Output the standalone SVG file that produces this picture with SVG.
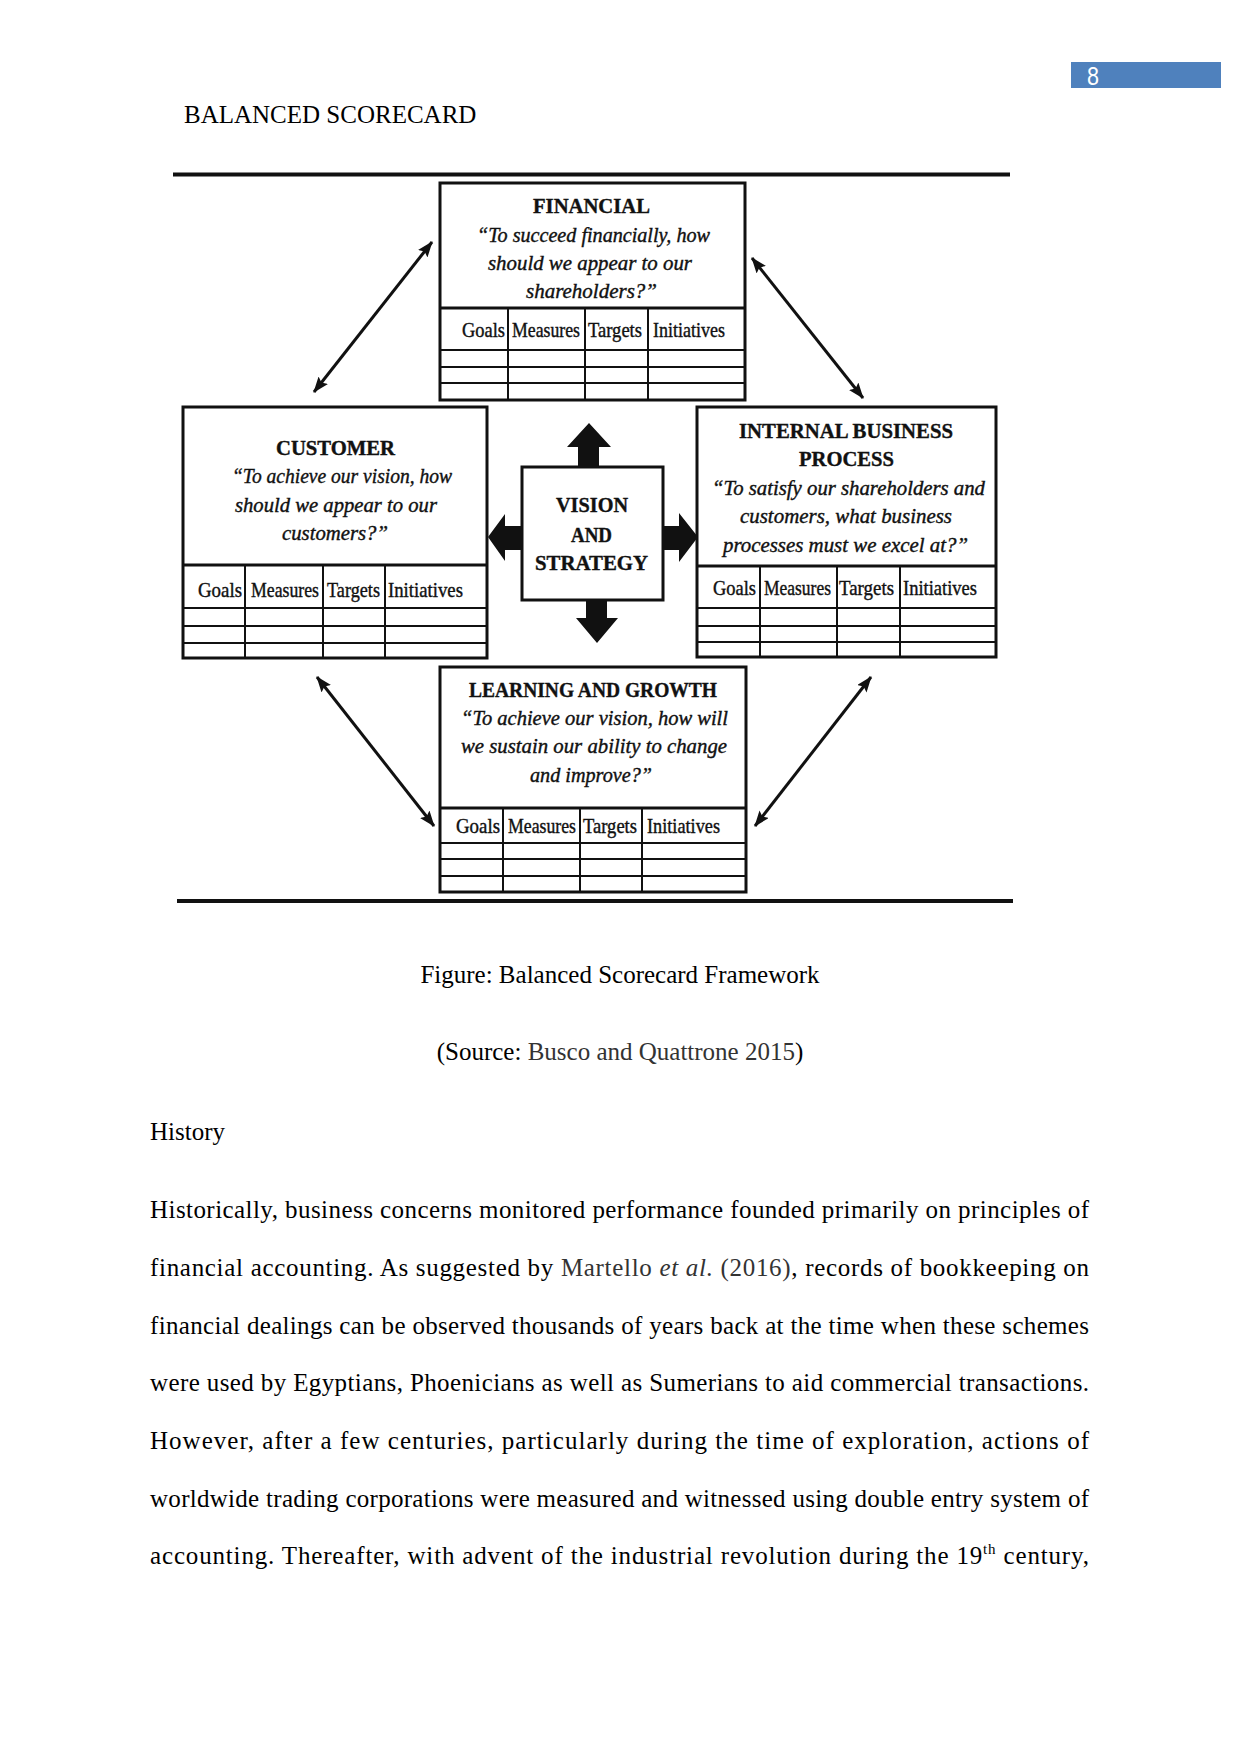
<svg xmlns="http://www.w3.org/2000/svg" width="1241" height="1754" viewBox="0 0 1241 1754">
<defs>
<style>
.box{fill:#fff;stroke:#111;stroke-width:3}
.ln{stroke:#111;stroke-width:2;fill:none}
.h{font-family:"Liberation Serif","Times New Roman",serif;font-weight:bold;font-size:22px;fill:#111;stroke:#111;stroke-width:0.4}
.q{font-family:"Liberation Serif","Times New Roman",serif;font-style:italic;font-size:21px;fill:#111;stroke:#111;stroke-width:0.4}
.c{font-family:"Liberation Serif","Times New Roman",serif;font-size:21px;fill:#111;stroke:#111;stroke-width:0.4}
.body{font-family:"Liberation Serif","Times New Roman",serif;font-size:25px;fill:#000}
.cite{fill:#333}
.rule{stroke:#111;stroke-width:4}
.diag{stroke:#111;stroke-width:3;fill:none;marker-start:url(#ah);marker-end:url(#ah)}
.blk{fill:#111}
</style>
<marker id="ah" markerUnits="userSpaceOnUse" markerWidth="16" markerHeight="12" refX="15" refY="6" orient="auto-start-reverse" viewBox="0 0 16 12">
<path d="M0,0 L16,6 L0,12 L3,6 z" fill="#111"/>
</marker>
</defs>
<rect width="1241" height="1754" fill="#fff"/>

<g id="header">
<rect x="1071" y="62" width="150" height="26" fill="#4F81BD"/>
<text x="1087" y="85" font-family="Liberation Sans, Arial, sans-serif" font-size="26" fill="#fff" textLength="12" lengthAdjust="spacingAndGlyphs">8</text>
<text class="body" x="184" y="123">BALANCED SCORECARD</text>
</g>

<g id="rules">
<line class="rule" x1="173" y1="174.5" x2="1010" y2="174.5"/>
<line class="rule" x1="177" y1="901" x2="1013" y2="901"/>
</g>

<g id="financial">
<rect class="box" x="440" y="183" width="305" height="217"/>
<line class="ln" x1="440" y1="308" x2="745" y2="308" style="stroke-width:3"/>
<line class="ln" x1="508" y1="308" x2="508" y2="400"/>
<line class="ln" x1="585" y1="308" x2="585" y2="400"/>
<line class="ln" x1="648" y1="308" x2="648" y2="400"/>
<line class="ln" x1="440" y1="350" x2="745" y2="350"/>
<line class="ln" x1="440" y1="367" x2="745" y2="367"/>
<line class="ln" x1="440" y1="383" x2="745" y2="383"/>
<text class="h" x="533" y="213" textLength="117" lengthAdjust="spacingAndGlyphs">FINANCIAL</text>
<text class="q" x="477" y="242" textLength="233" lengthAdjust="spacingAndGlyphs">“To succeed financially, how</text>
<text class="q" x="488" y="270" textLength="204" lengthAdjust="spacingAndGlyphs">should we appear to our</text>
<text class="q" x="526" y="298" textLength="131" lengthAdjust="spacingAndGlyphs">shareholders?”</text>
<text class="c" x="462" y="337" textLength="43" lengthAdjust="spacingAndGlyphs">Goals</text>
<text class="c" x="512" y="337" textLength="68" lengthAdjust="spacingAndGlyphs">Measures</text>
<text class="c" x="588" y="337" textLength="54" lengthAdjust="spacingAndGlyphs">Targets</text>
<text class="c" x="653" y="337" textLength="72" lengthAdjust="spacingAndGlyphs">Initiatives</text>
</g>

<g id="customer">
<rect class="box" x="183" y="407" width="304" height="251"/>
<line class="ln" x1="183" y1="565" x2="487" y2="565" style="stroke-width:3"/>
<line class="ln" x1="245" y1="565" x2="245" y2="658"/>
<line class="ln" x1="323" y1="565" x2="323" y2="658"/>
<line class="ln" x1="385" y1="565" x2="385" y2="658"/>
<line class="ln" x1="183" y1="608" x2="487" y2="608"/>
<line class="ln" x1="183" y1="626" x2="487" y2="626"/>
<line class="ln" x1="183" y1="643" x2="487" y2="643"/>
<text class="h" x="276" y="455" textLength="119" lengthAdjust="spacingAndGlyphs">CUSTOMER</text>
<text class="q" x="232" y="483" textLength="220" lengthAdjust="spacingAndGlyphs">“To achieve our vision, how</text>
<text class="q" x="235" y="512" textLength="202" lengthAdjust="spacingAndGlyphs">should we appear to our</text>
<text class="q" x="282" y="540" textLength="106" lengthAdjust="spacingAndGlyphs">customers?”</text>
<text class="c" x="198" y="597" textLength="44" lengthAdjust="spacingAndGlyphs">Goals</text>
<text class="c" x="251" y="597" textLength="68" lengthAdjust="spacingAndGlyphs">Measures</text>
<text class="c" x="327" y="597" textLength="53" lengthAdjust="spacingAndGlyphs">Targets</text>
<text class="c" x="388" y="597" textLength="75" lengthAdjust="spacingAndGlyphs">Initiatives</text>
</g>

<g id="internal">
<rect class="box" x="697" y="407" width="299" height="250"/>
<line class="ln" x1="697" y1="566" x2="996" y2="566" style="stroke-width:3"/>
<line class="ln" x1="760" y1="566" x2="760" y2="657"/>
<line class="ln" x1="837" y1="566" x2="837" y2="657"/>
<line class="ln" x1="900" y1="566" x2="900" y2="657"/>
<line class="ln" x1="697" y1="608" x2="996" y2="608"/>
<line class="ln" x1="697" y1="626" x2="996" y2="626"/>
<line class="ln" x1="697" y1="642" x2="996" y2="642"/>
<text class="h" x="739" y="438" textLength="214" lengthAdjust="spacingAndGlyphs">INTERNAL BUSINESS</text>
<text class="h" x="799" y="466" textLength="95" lengthAdjust="spacingAndGlyphs">PROCESS</text>
<text class="q" x="712" y="495" textLength="273" lengthAdjust="spacingAndGlyphs">“To satisfy our shareholders and</text>
<text class="q" x="740" y="523" textLength="212" lengthAdjust="spacingAndGlyphs">customers, what business</text>
<text class="q" x="723" y="552" textLength="245" lengthAdjust="spacingAndGlyphs">processes must we excel at?”</text>
<text class="c" x="713" y="595" textLength="43" lengthAdjust="spacingAndGlyphs">Goals</text>
<text class="c" x="764" y="595" textLength="67" lengthAdjust="spacingAndGlyphs">Measures</text>
<text class="c" x="839" y="595" textLength="55" lengthAdjust="spacingAndGlyphs">Targets</text>
<text class="c" x="903" y="595" textLength="74" lengthAdjust="spacingAndGlyphs">Initiatives</text>
</g>

<g id="learning">
<rect class="box" x="440" y="667" width="306" height="225"/>
<line class="ln" x1="440" y1="808" x2="746" y2="808" style="stroke-width:3"/>
<line class="ln" x1="503" y1="808" x2="503" y2="892"/>
<line class="ln" x1="580" y1="808" x2="580" y2="892"/>
<line class="ln" x1="642" y1="808" x2="642" y2="892"/>
<line class="ln" x1="440" y1="843" x2="746" y2="843"/>
<line class="ln" x1="440" y1="859" x2="746" y2="859"/>
<line class="ln" x1="440" y1="876" x2="746" y2="876"/>
<text class="h" x="469" y="697" textLength="248" lengthAdjust="spacingAndGlyphs">LEARNING AND GROWTH</text>
<text class="q" x="461" y="725" textLength="267" lengthAdjust="spacingAndGlyphs">“To achieve our vision, how will</text>
<text class="q" x="461" y="753" textLength="266" lengthAdjust="spacingAndGlyphs">we sustain our ability to change</text>
<text class="q" x="530" y="782" textLength="122" lengthAdjust="spacingAndGlyphs">and improve?”</text>
<text class="c" x="456" y="833" textLength="44" lengthAdjust="spacingAndGlyphs">Goals</text>
<text class="c" x="508" y="833" textLength="68" lengthAdjust="spacingAndGlyphs">Measures</text>
<text class="c" x="583" y="833" textLength="54" lengthAdjust="spacingAndGlyphs">Targets</text>
<text class="c" x="647" y="833" textLength="73" lengthAdjust="spacingAndGlyphs">Initiatives</text>
</g>

<g id="vision">
<rect class="box" x="522" y="467" width="141" height="133"/>
<text class="h" x="556" y="512" font-size="23" textLength="72" lengthAdjust="spacingAndGlyphs">VISION</text>
<text class="h" x="571" y="542" font-size="23" textLength="41" lengthAdjust="spacingAndGlyphs">AND</text>
<text class="h" x="535" y="570" font-size="23" textLength="113" lengthAdjust="spacingAndGlyphs">STRATEGY</text>
</g>

<g id="connectors">
<polygon class="blk" points="578,467 578,447 567,447 589,423 611,447 599,447 599,467"/>
<polygon class="blk" points="586,600 586,618 576,618 597,643 618,618 607,618 607,600"/>
<polygon class="blk" points="522,526 505,526 505,514 488,537 505,561 505,550 522,550"/>
<polygon class="blk" points="663,526 679,526 679,513 698,537 679,562 679,550 663,550"/>
<line class="diag" x1="432" y1="242" x2="314" y2="392"/>
<line class="diag" x1="752" y1="258" x2="863" y2="398"/>
<line class="diag" x1="317" y1="677" x2="434" y2="826"/>
<line class="diag" x1="871" y1="677" x2="755" y2="826"/>
</g>

<g id="text">
<text class="body" x="620" y="983" text-anchor="middle">Figure: Balanced Scorecard Framework</text>
<text class="body" x="620" y="1060" text-anchor="middle">(Source: <tspan class="cite">Busco and Quattrone 2015</tspan>)</text>
<text class="body" x="150" y="1140">History</text>
<text class="body" x="150" y="1218" textLength="939" lengthAdjust="spacing">Historically, business concerns monitored performance founded primarily on principles of</text>
<text class="body" x="150" y="1276" textLength="939" lengthAdjust="spacing">financial accounting. As suggested by <tspan class="cite">Martello </tspan><tspan class="cite" font-style="italic">et al.</tspan><tspan class="cite"> (2016)</tspan>, records of bookkeeping on</text>
<text class="body" x="150" y="1334" textLength="939" lengthAdjust="spacing">financial dealings can be observed thousands of years back at the time when these schemes</text>
<text class="body" x="150" y="1391" textLength="939" lengthAdjust="spacing">were used by Egyptians, Phoenicians as well as Sumerians to aid commercial transactions.</text>
<text class="body" x="150" y="1449" textLength="939" lengthAdjust="spacing">However, after a few centuries, particularly during the time of exploration, actions of</text>
<text class="body" x="150" y="1507" textLength="939" lengthAdjust="spacing">worldwide trading corporations were measured and witnessed using double entry system of</text>
<text class="body" x="150" y="1564" textLength="939" lengthAdjust="spacing">accounting. Thereafter, with advent of the industrial revolution during the 19<tspan font-size="15" dy="-10">th</tspan><tspan dy="10"> century,</tspan></text>
</g>
</svg>
